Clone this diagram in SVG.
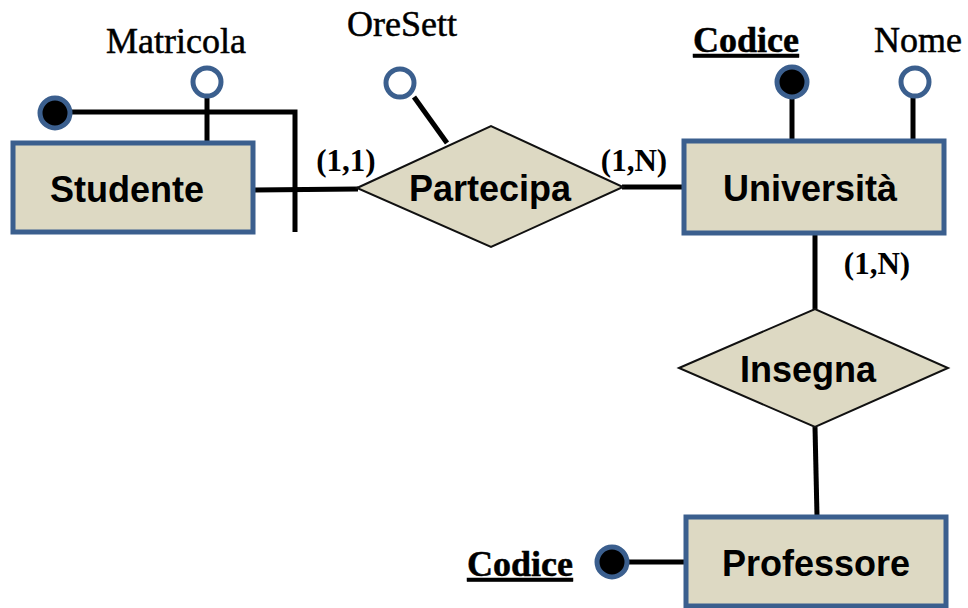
<svg xmlns="http://www.w3.org/2000/svg" width="968" height="608" viewBox="0 0 968 608">
<style>
.ent{fill:#DDD9C3;stroke:#3B5F8E;stroke-width:5}
.rel{fill:#DDD9C3;stroke:#111;stroke-width:2}
.ln{stroke:#000;stroke-width:5;fill:none}
.attr{fill:#fff;stroke:#3B5F8E;stroke-width:5}
.key{fill:#000;stroke:#3B5F8E;stroke-width:5}
.lbl{font-family:"Liberation Sans",Arial,sans-serif;font-weight:bold;font-size:36px;fill:#000;text-anchor:middle}
.att{font-family:"Liberation Serif","Times New Roman",serif;font-size:36px;fill:#000;stroke:#000;stroke-width:0.5;text-anchor:middle}
.card{font-family:"Liberation Serif","Times New Roman",serif;font-weight:bold;font-size:31px;fill:#000;text-anchor:middle}
.ul{font-weight:bold;text-decoration:underline}
</style>
<g id="connectors">
<line class="ln" x1="253" y1="190" x2="358" y2="189"/>
<polyline class="ln" points="55,112 295,112 295,232"/>
<line class="ln" x1="207" y1="96" x2="207" y2="142"/>
<line class="ln" x1="414" y1="97" x2="447" y2="143"/>
<line class="ln" x1="622" y1="187" x2="685" y2="187"/>
<line class="ln" x1="792" y1="96" x2="792" y2="141"/>
<line class="ln" x1="913" y1="96" x2="913" y2="141"/>
<line class="ln" x1="815" y1="233" x2="815" y2="309"/>
<line class="ln" x1="815" y1="427" x2="817" y2="516"/>
<line class="ln" x1="612" y1="562" x2="686" y2="562"/>
</g>
<g id="studente">
<rect class="ent" x="13" y="143" width="240" height="89"/>
<text class="lbl" x="127" y="202">Studente</text>
</g>
<g id="studente-key">
<circle class="key" cx="55" cy="113" r="15"/>
</g>
<g id="matricola">
<circle class="attr" cx="207" cy="82" r="14"/>
<text class="att" x="176" y="53">Matricola</text>
</g>
<g id="partecipa">
<polygon class="rel" points="357,188 491,126 623,187 491,247"/>
<text class="lbl" x="490" y="201">Partecipa</text>
</g>
<g id="oresett">
<circle class="attr" cx="400" cy="83" r="14"/>
<text class="att" x="402" y="36">OreSett</text>
</g>
<text class="card" x="346" y="171">(1,1)</text>
<text class="card" x="634" y="171">(1,N)</text>
<g id="universita">
<rect class="ent" x="684" y="141" width="260" height="92"/>
<text class="lbl" x="810" y="201">Università</text>
</g>
<g id="codice-uni">
<circle class="key" cx="792" cy="82" r="15"/>
<text class="att ul" x="746" y="52">Codice</text>
</g>
<g id="nome">
<circle class="attr" cx="915" cy="82" r="14"/>
<text class="att" x="918" y="52">Nome</text>
</g>
<text class="card" x="877" y="274">(1,N)</text>
<g id="insegna">
<polygon class="rel" points="679,368 815,309 948,368 815,427"/>
<text class="lbl" x="808" y="382">Insegna</text>
</g>
<g id="professore">
<rect class="ent" x="686" y="517" width="260" height="89"/>
<text class="lbl" x="816" y="576">Professore</text>
</g>
<g id="codice-prof">
<circle class="key" cx="612" cy="562" r="15"/>
<text class="att ul" x="520" y="576">Codice</text>
</g>
</svg>
